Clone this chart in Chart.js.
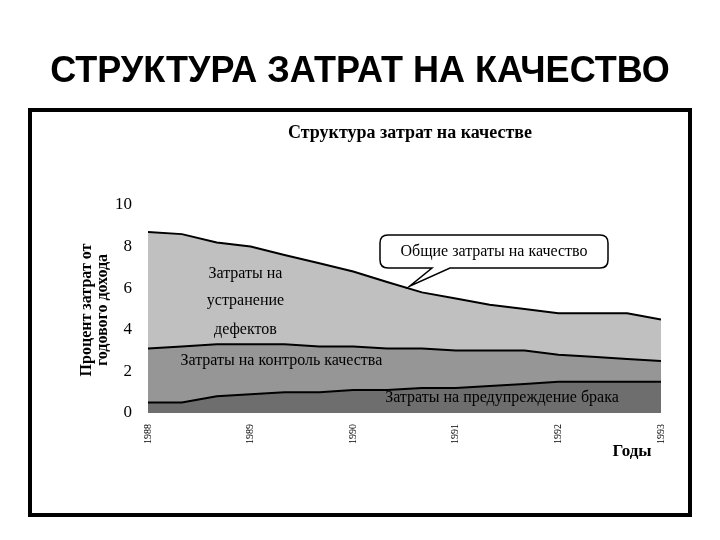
<!DOCTYPE html><html><head><meta charset="utf-8">
<script src="https://cdn.jsdelivr.net/npm/chart.js@4"></script>
<style>html,body{margin:0;padding:0;background:#fff}#w{position:relative;width:720px;height:540px}</style></head><body>
<div id="w"><canvas id="c" width="720" height="540"></canvas></div>
<script>
const years = [1988,1988.33,1988.67,1989,1989.33,1989.67,1990,1990.33,1990.67,1991,1991.33,1991.67,1992,1992.33,1992.67,1993];
const totalCosts = [8.7,8.6,8.2,8.0,7.6,7.2,6.8,6.3,5.8,5.5,5.2,5.0,4.8,4.8,4.8,4.5];
const controlCosts = [3.1,3.2,3.3,3.3,3.3,3.2,3.2,3.1,3.1,3.0,3.0,3.0,2.8,2.7,2.6,2.5];
const preventionCosts = [0.5,0.5,0.8,0.9,1.0,1.0,1.1,1.1,1.2,1.2,1.3,1.4,1.5,1.5,1.5,1.5];
const yTicks = [0,2,4,6,8,10];
const xTicks = [1988,1989,1990,1991,1992,1993];
const pts = a => a.map((v,i)=>({x:years[i],y:v}));
const serif = '"Liberation Serif","DejaVu Serif",serif';
const deco = {id:'deco',
 beforeDraw(ch){const c=ch.ctx;c.save();c.fillStyle='#fff';c.fillRect(0,0,720,540);
  c.fillStyle='#000';c.font='bold 36px "Liberation Sans",Arial,sans-serif';c.textAlign='center';c.textBaseline='middle';
  c.fillText('СТРУКТУРА ЗАТРАТ НА КАЧЕСТВО',360,72);
  c.lineWidth=4;c.strokeRect(30,110,660,405);c.restore();},
 afterDraw(ch){const c=ch.ctx,x=ch.scales.x,y=ch.scales.y;c.save();c.fillStyle='#000';c.textBaseline='middle';c.textAlign='center';
  c.font='bold 18px '+serif;c.fillText('Структура затрат на качестве',410,133);
  c.font='bold 17px '+serif;c.fillText('Годы',632,452);
  c.font='bold 16px '+serif;
  c.save();c.translate(87,310);c.rotate(-Math.PI/2);c.fillText('Процент затрат от',0,0);c.restore();
  c.save();c.translate(103,310);c.rotate(-Math.PI/2);c.fillText('годового дохода',0,0);c.restore();
  c.font='16px '+serif;
  c.fillText('Затраты на',x.getPixelForValue(1988.95),y.getPixelForValue(6.7));
  c.fillText('устранение',x.getPixelForValue(1988.95),y.getPixelForValue(5.4));
  c.fillText('дефектов',x.getPixelForValue(1988.95),y.getPixelForValue(4.0));
  c.fillText('Затраты на контроль качества',x.getPixelForValue(1989.3),y.getPixelForValue(2.5));
  c.fillText('Затраты на предупреждение брака',x.getPixelForValue(1991.45),y.getPixelForValue(0.75));
  const bx=380,by=235,bw=228,bh=33,tx=x.getPixelForValue(1990.55),ty=y.getPixelForValue(6.1);
  c.beginPath();c.moveTo(bx+8,by);c.lineTo(bx+bw-8,by);c.quadraticCurveTo(bx+bw,by,bx+bw,by+8);c.lineTo(bx+bw,by+bh-8);c.quadraticCurveTo(bx+bw,by+bh,bx+bw-8,by+bh);
  c.lineTo(bx+70,by+bh);c.lineTo(tx,ty);c.lineTo(bx+52,by+bh);c.lineTo(bx+8,by+bh);c.quadraticCurveTo(bx,by+bh,bx,by+bh-8);c.lineTo(bx,by+8);c.quadraticCurveTo(bx,by,bx+8,by);c.closePath();
  c.fillStyle='#fff';c.fill();c.lineWidth=1.5;c.strokeStyle='#000';c.stroke();
  c.fillStyle='#000';c.fillText('Общие затраты на качество',bx+bw/2,by+bh/2);
  c.restore();}};
const ds=(label,data,col)=>({label,data:pts(data),fill:'origin',backgroundColor:col,borderColor:'#000',borderWidth:2,pointRadius:0,tension:0});
new Chart(document.getElementById('c'),{type:'line',
 data:{datasets:[ds('Затраты на предупреждение брака',preventionCosts,'#6e6e6e'),ds('Затраты на контроль качества',controlCosts,'#969696'),ds('Общие затраты на качество',totalCosts,'#c0c0c0')]},
 options:{responsive:false,animation:false,
  layout:{padding:{left:30,top:205,right:59,bottom:70}},
  plugins:{legend:{display:false},tooltip:{enabled:false}},
  scales:{
   x:{type:'linear',min:1988,max:1993,afterFit(s){s.height=57;},grid:{display:false},border:{display:false},
      afterBuildTicks(s){s.ticks=xTicks.map(v=>({value:v}));},
      ticks:{color:'#000',font:{family:serif,size:10},minRotation:90,maxRotation:90,callback:v=>String(v)}},
   y:{min:0,max:10,afterFit(s){s.width=118;},grid:{display:false},border:{display:false},
      afterBuildTicks(s){s.ticks=yTicks.map(v=>({value:v}));},
      ticks:{color:'#000',font:{family:serif,size:17},padding:8}}}},
 plugins:[deco]});
</script></body></html>
